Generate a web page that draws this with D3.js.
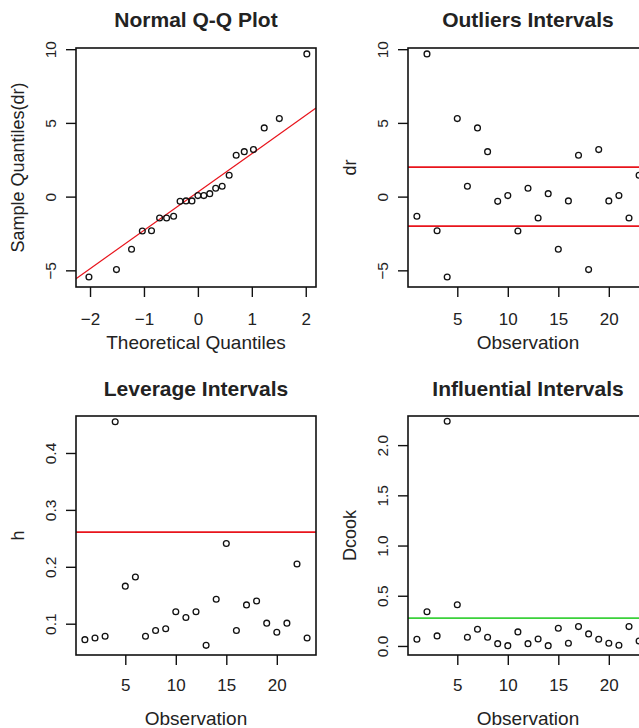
<!DOCTYPE html>
<html>
<head>
<meta charset="utf-8">
<script src="https://cdn.jsdelivr.net/npm/d3@7"></script>
<style>
  body { margin: 0; background: #fff; }
  svg { display: block; font-family: "Liberation Sans", Arial, sans-serif; }
  .axis text { fill: #222; font-size: 17px; }
  .yaxis text { font-size: 15.5px; }
  .axis path, .axis line { stroke: #111; stroke-width: 1.4; }
  .title { font-weight: bold; font-size: 21px; fill: #222; }
  .lab { font-size: 19px; fill: #222; }
  .ylab { font-size: 18px; fill: #222; }
</style>
</head>
<body>
<script>
"use strict";

//observations 1..23
const obs = d3.range(1, 24);

//deleted residuals (dr) per observation
const dr = [-1.33, 9.68, -2.31, -5.45, 5.29, 0.70, 4.66, 3.05, -0.32, 0.07, -2.33, 0.57,
  -1.45, 0.20, -3.57, -0.29, 2.81, -4.95, 3.19, -0.29, 0.07, -1.45, 1.45];

//theoretical normal quantiles for the sorted residuals
const theo = [-2.02, -1.51, -1.23, -1.03, -0.86, -0.71, -0.58, -0.45, -0.33, -0.22, -0.11, 0,
  0.11, 0.22, 0.33, 0.45, 0.58, 0.71, 0.86, 1.03, 1.23, 1.51, 2.02];

//leverage h
const lev = [0.072, 0.075, 0.078, 0.455, 0.166, 0.182, 0.078, 0.088, 0.091, 0.121, 0.111, 0.121,
  0.062, 0.143, 0.241, 0.088, 0.133, 0.140, 0.101, 0.085, 0.101, 0.205, 0.075];

//cook's distance
const dcook = [0.067, 0.34, 0.10, 2.237, 0.41, 0.087, 0.167, 0.087, 0.023, 0.003, 0.14, 0.023,
  0.07, 0.003, 0.177, 0.027, 0.193, 0.12, 0.067, 0.027, 0.007, 0.193, 0.05];

//cut-off lines
const drLimits = [-2, 2];
const levLimit = [0.261];
const cookLimit = [0.277];
const qqIntercept = 0.31;
const qqSlope = 2.6;

//tick values
const qqXTicks = [-2, -1, 0, 1, 2];
const drTicks = [-5, 0, 5, 10];
const obsTicks = [5, 10, 15, 20];
const levTicks = [0.1, 0.2, 0.3, 0.4];
const cookTicks = [0, 0.5, 1, 1.5, 2];

const w = 639;
const h = 728;

//plot boxes
const cols = [76, 408];
const rows = [48, 416];
const pw = 240;
const ph = 239;

const svg = d3.select("body").append("svg").attr("width", w).attr("height", h);

function panel(o) {
  const x = d3.scaleLinear().domain(o.xDomain).range([o.left, o.left + pw]);
  const y = d3.scaleLinear().domain(o.yDomain).range([o.top + ph, o.top]);
  const g = svg.append("g");

  g.append("clipPath").attr("id", o.id)
    .append("rect").attr("x", o.left).attr("y", o.top).attr("width", pw).attr("height", ph);

  //x axis
  g.append("g")
    .attr("class", "axis")
    .attr("transform", `translate(0, ${o.top + ph})`)
    .call(d3.axisBottom(x).tickValues(o.xTicks).tickSize(10).tickSizeOuter(0)
      .tickFormat(d3.format("d")))
    .call((a) => a.select(".domain").remove())
    .call((a) => a.selectAll("text").attr("y", 0).attr("dy", 0)
      .attr("transform", `translate(0, ${o.xLabY})`));

  //y axis, labels rotated like R
  g.append("g")
    .attr("class", "axis yaxis")
    .attr("transform", `translate(${o.left}, 0)`)
    .call(d3.axisLeft(y).tickValues(o.yTicks).tickSize(10).tickSizeOuter(0).tickFormat(o.yFmt))
    .call((a) => a.select(".domain").remove())
    .call((a) => a.selectAll("text").attr("x", 0).attr("dy", "0.36em")
      .attr("text-anchor", "middle").attr("transform", "translate(-26, 0) rotate(-90)"));

  //horizontal reference lines
  g.selectAll(".ref").data(o.hlines).enter().append("line")
    .attr("x1", o.left).attr("x2", o.left + pw)
    .attr("y1", (d) => y(d)).attr("y2", (d) => y(d))
    .attr("stroke", o.hColor).attr("stroke-width", 1.8);

  //qq line
  if (o.abline) {
    g.append("line")
      .attr("clip-path", `url(#${o.id})`)
      .attr("x1", x(o.xDomain[0])).attr("y1", y(o.abline[0] + o.abline[1] * o.xDomain[0]))
      .attr("x2", x(o.xDomain[1])).attr("y2", y(o.abline[0] + o.abline[1] * o.xDomain[1]))
      .attr("stroke", "#e8141c").attr("stroke-width", 1.2);
  }

  g.selectAll("circle").data(o.xs).enter().append("circle")
    .attr("cx", (d) => x(d))
    .attr("cy", (d, i) => y(o.ys[i]))
    .attr("r", 2.9)
    .attr("fill", "none")
    .attr("stroke", "#111")
    .attr("stroke-width", 1.3);

  //frame
  g.append("rect").attr("x", o.left).attr("y", o.top).attr("width", pw).attr("height", ph)
    .attr("fill", "none").attr("stroke", "#111").attr("stroke-width", 1.6);

  g.append("text").attr("class", "title")
    .attr("x", o.left + pw / 2).attr("y", o.titleY).attr("text-anchor", "middle").text(o.title);
  g.append("text").attr("class", "lab")
    .attr("x", o.left + pw / 2).attr("y", o.xLabBase).attr("text-anchor", "middle").text(o.xLab);
  g.append("text").attr("class", "ylab")
    .attr("transform", `translate(${o.left - 52}, ${o.top + ph / 2}) rotate(-90)`)
    .attr("text-anchor", "middle").text(o.yLab);
}

const drDomain = [-6.13, 10.08];
const obsDomain = [0.12, 23.88];

panel({
  id: "c1", left: cols[0], top: rows[0], title: "Normal Q-Q Plot", titleY: 27,
  xDomain: [-2.26, 2.19], yDomain: drDomain, xTicks: qqXTicks, yTicks: drTicks,
  yFmt: d3.format("d"), xs: theo, ys: dr.slice().sort((a, b) => a - b),
  hlines: [], abline: [qqIntercept, qqSlope],
  xLab: "Theoretical Quantiles", yLab: "Sample Quantiles(dr)", xLabY: 38, xLabBase: 349
});

panel({
  id: "c2", left: cols[1], top: rows[0], title: "Outliers Intervals", titleY: 27,
  xDomain: obsDomain, yDomain: drDomain, xTicks: obsTicks, yTicks: drTicks,
  yFmt: d3.format("d"), xs: obs, ys: dr, hlines: drLimits, hColor: "#e8141c",
  xLab: "Observation", yLab: "dr", xLabY: 38, xLabBase: 349
});

panel({
  id: "c3", left: cols[0], top: rows[1], title: "Leverage Intervals", titleY: 396,
  xDomain: obsDomain, yDomain: [0.045, 0.465], xTicks: obsTicks, yTicks: levTicks,
  yFmt: d3.format(".1f"), xs: obs, ys: lev, hlines: levLimit, hColor: "#e8141c",
  xLab: "Observation", yLab: "h", xLabY: 36, xLabBase: 725
});

panel({
  id: "c4", left: cols[1], top: rows[1], title: "Influential Intervals", titleY: 396,
  xDomain: obsDomain, yDomain: [-0.09, 2.29], xTicks: obsTicks, yTicks: cookTicks,
  yFmt: d3.format(".1f"), xs: obs, ys: dcook, hlines: cookLimit, hColor: "#3ad13a",
  xLab: "Observation", yLab: "Dcook", xLabY: 36, xLabBase: 725
});
</script>
</body>
</html>
